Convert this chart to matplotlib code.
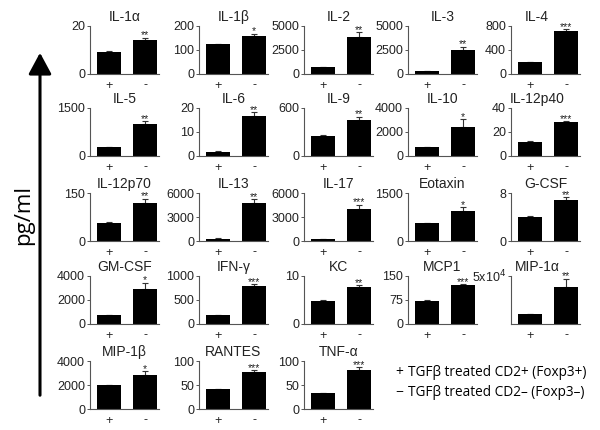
import matplotlib
matplotlib.use("Agg")
import matplotlib.pyplot as plt
from matplotlib.patches import FancyArrowPatch

names = ["IL-1α", "IL-1β", "IL-2", "IL-3", "IL-4",
         "IL-5", "IL-6", "IL-9", "IL-10", "IL-12p40",
         "IL-12p70", "IL-13", "IL-17", "Eotaxin", "G-CSF",
         "GM-CSF", "IFN-γ", "KC", "MCP1", "MIP-1α",
         "MIP-1β", "RANTES", "TNF-α"]
pos_vals = [9.3, 125, 750, 330, 200,
            270, 1.8, 255, 750, 12,
            57, 300, 200, 560, 4.0,
            720, 180, 4.8, 73, 10000,
            1980, 41, 33]
pos_err = [0.3, 2, 30, 20, 5,
           10, 0.1, 8, 20, 0.3,
           1, 20, 20, 10, 0.1,
           20, 8, 0.1, 1, 300,
           30, 0.5, 0.5]
neg_vals = [14, 160, 3900, 2450, 710,
            1000, 16.5, 455, 2450, 28,
            120, 4750, 3950, 940, 6.9,
            2900, 800, 7.7, 123, 39000,
            2850, 78, 82]
neg_err = [1.2, 8, 450, 400, 40,
           80, 1.8, 35, 630, 1,
           12, 500, 600, 110, 0.4,
           550, 30, 0.4, 2, 8000,
           280, 2.5, 5]
stars = ["**", "*", "**", "**", "***",
         "**", "**", "**", "*", "***",
         "**", "**", "***", "*", "**",
         "*", "***", "**", "***", "**",
         "*", "***", "***"]
ymax = [20, 200, 5000, 5000, 800,
        1500, 20, 600, 4000, 40,
        150, 6000, 6000, 1500, 8,
        4000, 1000, 10, 150, 50000,
        4000, 100, 100]
yticks = [[0, 20], [0, 100, 200], [0, 2500, 5000], [0, 2500, 5000], [0, 400, 800],
          [0, 1500], [0, 10, 20], [0, 600], [0, 2000, 4000], [0, 20, 40],
          [0, 150], [0, 3000, 6000], [0, 3000, 6000], [0, 1500], [0, 8],
          [0, 2000, 4000], [0, 500, 1000], [0, 10], [0, 75, 150], [50000],
          [0, 2000, 4000], [0, 50, 100], [0, 50, 100]]
yticklabels = [[str(v) for v in t] for t in yticks]
yticklabels[19] = ["5x10$^4$"]
group_labels = ["+", "-"]
legend_lines = ["TGFβ treated CD2+ (Foxp3+)", "TGFβ treated CD2– (Foxp3–)"]
legend_marks = ["+", "−"]

W, H = 600, 430
fig = plt.figure(figsize=(6, 4.3), dpi=100)
plt.rcParams['font.family'] = ['Liberation Sans', 'DejaVu Sans']

col_left = [90, 199, 304, 408, 511]
row_bottom = [74, 156, 241, 324, 409]
ax_w, ax_h = 69, 48
txtc = "#222222"
spc = "#555555"
shifted_titles = {"IL-4", "IL-12p40", "MIP-1α"}

for i, name in enumerate(names):
    r, c = divmod(i, 5)
    L = col_left[c]
    B = row_bottom[r]
    ax = fig.add_axes([L / W, 1 - B / H, ax_w / W, ax_h / H])
    ax.bar([0, 1], [pos_vals[i], neg_vals[i]], width=0.67, color="black", zorder=2)
    ax.errorbar([0, 1], [pos_vals[i], neg_vals[i]], yerr=[[0, 0], [pos_err[i], neg_err[i]]],
                fmt="none", ecolor="#333333", elinewidth=0.8, capsize=2.5, capthick=0.8, zorder=1)
    ax.annotate(stars[i], (1, neg_vals[i] + neg_err[i]), xytext=(0, -0.5),
                textcoords="offset points", ha="center", va="baseline",
                fontsize=7.5, color=txtc)
    ax.set_xlim(-0.53, 1.38)
    ax.set_ylim(0, ymax[i])
    ax.set_yticks(yticks[i])
    ax.set_yticklabels(yticklabels[i])
    ax.set_xticks([0, 1])
    ax.set_xticklabels(group_labels)
    ax.tick_params(axis="x", length=0, pad=4, labelsize=9, colors=txtc)
    ax.tick_params(axis="y", length=2.5, width=0.7, pad=1, labelsize=9, colors=txtc, color=spc)
    for s in ["top", "right"]:
        ax.spines[s].set_visible(False)
    for s in ["left", "bottom"]:
        ax.spines[s].set_color(spc)
        ax.spines[s].set_linewidth(0.8)
    t = ax.set_title(name, fontsize=10, color=txtc, pad=3.5)
    if name in shifted_titles:
        t.set_x(0.38)
    ax.patch.set_alpha(0)

arrow = FancyArrowPatch((40 / W, 1 - 398 / H), (40 / W, 1 - 50 / H),
                        transform=fig.transFigure,
                        arrowstyle="-|>,head_length=13,head_width=7",
                        mutation_scale=1, linewidth=2.2, color="black")
fig.add_artist(arrow)
fig.text(24 / W, 1 - 215 / H, "pg/ml", rotation=90, ha="center", va="center",
         fontsize=16, family=["Open Sans", "DejaVu Sans"], color="black")

for k, (m, t) in enumerate(zip(legend_marks, legend_lines)):
    y = 1 - (373 + 19 * k) / H
    fig.text(399 / W, y, m, ha="center", va="center", fontsize=10,
             family=["Open Sans", "DejaVu Sans"], color="black")
    fig.text(408 / W, y, t, ha="left", va="center", fontsize=9.8,
             family=["Open Sans", "DejaVu Sans"], color="black")

fig.savefig("out.png", dpi=100)
